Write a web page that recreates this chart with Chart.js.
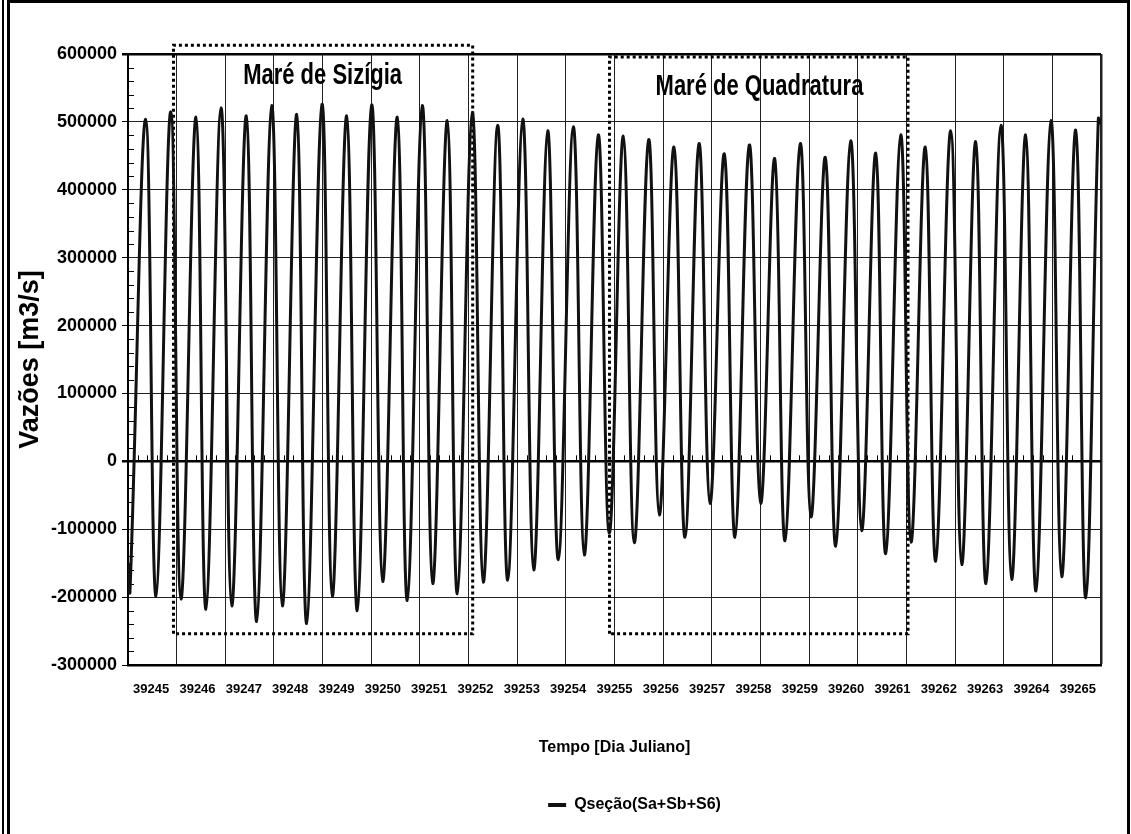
<!DOCTYPE html>
<html>
<head>
<meta charset="utf-8">
<title>Vazões - Qseção</title>
<script src="https://cdn.jsdelivr.net/npm/chart.js@4.4.1/dist/chart.umd.min.js"></script>
<style>
  html, body { margin: 0; padding: 0; background: #fff; }
  #wrap { position: relative; width: 1131px; height: 834px; overflow: hidden; }
  #wrap canvas { position: absolute; left: 0; top: 0; }
  .rule { position: absolute; left: 2px; top: 0; width: 2px; height: 834px; background: #000; }
  .frame { position: absolute; left: 7px; top: 0; width: 1117px; height: 850px; border: 3px solid #000; pointer-events: none; }
</style>
</head>
<body>
<div id="wrap">
  <canvas id="chart" width="1131" height="834"></canvas>
  <div class="rule"></div>
  <div class="frame"></div>
</div>
<script>
// julian day labels on the bottom axis
const dayLabels = ['39245', '39246', '39247', '39248', '39249', '39250', '39251',
  '39252', '39253', '39254', '39255', '39256', '39257', '39258', '39259', '39260',
  '39261', '39262', '39263', '39264', '39265'];

// high / low water discharge (day offset from 39245)
const troughDays = [0.041, 0.576, 1.089, 1.603, 2.132, 2.645, 3.172, 3.673, 4.199, 4.713,
  5.235, 5.741, 6.263, 6.769, 7.303, 7.805, 8.339, 8.845, 9.379, 9.893,
  10.407, 10.921, 11.449, 11.963, 12.477, 13.005, 13.505, 14.039, 14.547, 15.081,
  15.575, 16.095, 16.602, 17.137, 17.636, 18.164, 18.664, 19.192, 19.686];
const troughFlows = [-191000, -199000, -203000, -218000, -213000, -236000, -213000, -239000, -199000, -220000,
  -177000, -205000, -180000, -195000, -178000, -175000, -160000, -145000, -138000, -106000,
  -120000, -79000, -112000, -62000, -112000, -62000, -117000, -82000, -125000, -102000,
  -136000, -119000, -147000, -152000, -180000, -174000, -191000, -170000, -201000];
const peakDays = [0.364, 0.878, 1.398, 1.912, 2.432, 2.954, 3.468, 3.988, 4.495, 5.009,
  5.535, 6.049, 6.563, 7.077, 7.599, 8.113, 8.627, 9.153, 9.667, 10.181,
  10.703, 11.223, 11.737, 12.257, 12.771, 13.293, 13.819, 14.333, 14.855, 15.369,
  15.883, 16.388, 16.911, 17.424, 17.944, 18.452, 18.972, 19.480, 19.945];
const peakFlows = [504000, 515000, 507000, 521000, 509000, 524000, 511000, 526000, 509000, 525000,
  507000, 524000, 502000, 514000, 495000, 504000, 487000, 493000, 481000, 479000,
  474000, 463000, 468000, 453000, 466000, 446000, 468000, 448000, 472000, 454000,
  481000, 463000, 487000, 471000, 495000, 481000, 502000, 488000, 505000];
const startFlow = -150000;   // value at the left edge (39245)
const endFlow = 497000;      // value at the right edge (39265)

// highlighted periods (day range, flow range)
const sizigiaDays = [39245.935, 39252.085];
const sizigiaFlows = [-254000, 613000];
const quadraturaDays = [39254.897, 39261.033];
const quadraturaFlows = [-254000, 595600];

const DAY0 = 39245;
const font = '"Liberation Sans", Arial, Helvetica, sans-serif';

// build the series: low, high, low, high ...
const tide = [{ x: DAY0, y: startFlow }];
for (let i = 0; i < peakDays.length; i++) {
  tide.push({ x: DAY0 + troughDays[i], y: troughFlows[i] });
  tide.push({ x: DAY0 + peakDays[i], y: peakFlows[i] });
}
tide.push({ x: DAY0 + 20, y: endFlow });

function boxPath(days, flows) {
  return [
    { x: days[0], y: flows[0] }, { x: days[0], y: flows[1] },
    { x: days[1], y: flows[1] }, { x: days[1], y: flows[0] },
    { x: days[0], y: flows[0] }
  ];
}

const dotted = {
  borderColor: '#000',
  borderWidth: 3,
  borderDash: [3, 3],
  borderCapStyle: 'butt',
  pointRadius: 0,
  tension: 0,
  fill: false,
  clip: false
};

// caption text is a bit taller than wide in the original, so stretch it
function tallText(ctx, text, x, y) {
  ctx.save();
  ctx.translate(x, y);
  ctx.scale(1, 1.3);
  ctx.fillText(text, 0, 0);
  ctx.restore();
}

// small tick marks like the spreadsheet original, plus the two period captions
const extras = {
  id: 'extras',
  afterLayout(chart) {
    // the legend sits right of centre in the original
    chart.legend.left += 84;
    chart.legend.right += 84;
  },
  beforeDatasetsDraw(chart) {
    const { ctx, chartArea, scales } = chart;
    const x = scales.x, y = scales.y;
    ctx.save();
    ctx.strokeStyle = '#000';
    ctx.lineWidth = 1;
    ctx.beginPath();
    for (let v = -300000; v <= 600000; v += 20000) {
      if (v % 100000 === 0) continue;
      const py = Math.round(y.getPixelForValue(v)) + 0.5;
      ctx.moveTo(chartArea.left, py);
      ctx.lineTo(chartArea.left + 6, py);
    }
    const zero = y.getPixelForValue(0);
    for (let i = 1; i < 100; i++) {
      if (i % 5 === 0) continue;
      const px = Math.round(x.getPixelForValue(DAY0 + i / 5)) + 0.5;
      ctx.moveTo(px, zero);
      ctx.lineTo(px, zero - 6);
    }
    ctx.stroke();
    ctx.restore();
  },
  afterDatasetsDraw(chart) {
    const { ctx, scales } = chart;
    ctx.save();
    ctx.fillStyle = '#000';
    ctx.font = 'bold 22px ' + font;
    ctx.textAlign = 'center';
    ctx.textBaseline = 'alphabetic';
    tallText(ctx, 'Maré de Sizígia', scales.x.getPixelForValue(39249.0), scales.y.getPixelForValue(556000));
    tallText(ctx, 'Maré de Quadratura', scales.x.getPixelForValue(39257.98), scales.y.getPixelForValue(540000));
    ctx.restore();
  }
};

new Chart(document.getElementById('chart'), {
  type: 'line',
  data: {
    datasets: [
      {
        label: 'Qseção(Sa+Sb+S6)',
        data: tide,
        borderColor: '#111',
        backgroundColor: '#111',
        borderWidth: 3,
        pointRadius: 0,
        tension: 0.4,
        fill: false
      },
      Object.assign({ label: 'Maré de Sizígia', data: boxPath(sizigiaDays, sizigiaFlows) }, dotted),
      Object.assign({ label: 'Maré de Quadratura', data: boxPath(quadraturaDays, quadraturaFlows) }, dotted)
    ]
  },
  options: {
    responsive: false,
    animation: false,
    devicePixelRatio: 1,
    layout: { padding: { left: 0, top: 54, right: 30, bottom: 11 } },
    plugins: {
      tooltip: { enabled: false },
      legend: {
        position: 'bottom',
        labels: {
          color: '#000',
          font: { family: font, size: 16, weight: 'bold' },
          boxWidth: 18,
          boxHeight: 4,
          padding: 12,
          generateLabels: chart => Chart.defaults.plugins.legend.labels.generateLabels(chart)
            .filter(l => l.datasetIndex === 0)
            .map(l => Object.assign(l, { lineWidth: 0, fillStyle: '#111' }))
        }
      }
    },
    scales: {
      x: {
        type: 'linear',
        position: 'bottom',
        min: 39245,
        max: 39265,
        ticks: { stepSize: 1, display: false },
        grid: {
          drawTicks: false,
          color: '#222',
          lineWidth: c => (c.tick && c.tick.value === 39265 ? 2.5 : 1)
        },
        border: { display: true, color: '#000', width: 2.5 },
        afterFit: s => { s.height = 0; }
      },
      xLab: {
        type: 'category',
        position: 'bottom',
        labels: dayLabels,
        offset: true,
        grid: { display: false, drawTicks: false },
        border: { display: false },
        ticks: {
          color: '#000',
          font: { family: font, size: 13, weight: 'bold' },
          padding: 17,
          maxRotation: 0,
          autoSkip: false
        },
        title: {
          display: true,
          text: 'Tempo [Dia Juliano]',
          color: '#000',
          font: { family: font, size: 16, weight: 'bold' },
          padding: { top: 0, bottom: 28 }
        },
        afterFit: s => { s.height = 120; }
      },
      y: {
        min: -300000,
        max: 600000,
        ticks: {
          stepSize: 100000,
          color: '#000',
          font: { family: font, size: 18, weight: 'bold' },
          padding: 5,
          callback: v => String(v)
        },
        grid: {
          tickLength: 6,
          tickColor: '#000',
          color: c => (c.tick && (c.tick.value === 0 || c.tick.value === 600000) ? '#000' : '#222'),
          lineWidth: c => (c.tick && (c.tick.value === 0 || c.tick.value === 600000) ? 2.5 : 1)
        },
        border: { display: true, color: '#000', width: 2 },
        title: {
          display: true,
          text: 'Vazões [m3/s]',
          color: '#000',
          font: { family: font, size: 27, weight: 'bold' },
          padding: { top: 14, bottom: 0 }
        },
        afterFit: s => { s.width = 128; }
      }
    }
  },
  plugins: [extras]
});
</script>
</body>
</html>
